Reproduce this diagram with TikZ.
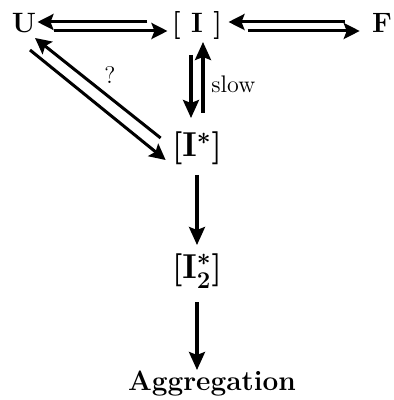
\documentclass[tikz,border=0pt]{standalone}
\usetikzlibrary{arrows.meta}
\begin{document}
\begin{tikzpicture}[x=0.5pt,y=-0.5pt,
  lbl/.style={font=\fontsize{14}{16}\selectfont\bfseries\boldmath, inner sep=0pt, anchor=base},
  big/.style={font=\fontsize{16.5}{18}\selectfont\bfseries\boldmath, inner sep=0pt, anchor=base},
  small/.style={font=\fontsize{12}{14}\selectfont, inner sep=0pt, anchor=base},
  arr/.style={-{Stealth[length=9pt,width=8pt,inset=1.5pt]}, line width=1.6pt},
  harr/.style={-{Stealth[length=8pt,width=8pt,inset=1.5pt]}, line width=1.5pt}]
\useasboundingbox (0,0) rectangle (393,400);
\node[lbl] (U) at (24,33) {U};
\node[lbl] (I) at (197,33) {[ I ]};
\node[lbl] (F) at (382,33) {F};
\node[big] (Istar) at (197,157) {[$\mathbf{I}^{*}$]};
\node[big] (I2) at (197,278) {[$\mathbf{I}^{*}_{2}$]};
\node[lbl] (Agg) at (212,390) {Aggregation};
\node[small, anchor=base west] (slow) at (211,93) {slow};
\node[small] (q) at (110,84) {?};
% U <-> I
\draw[harr] ([xshift=-12pt,yshift=5.5pt]I.base west) -- ([xshift=0.5pt,yshift=5.5pt]U.base east);
\draw[harr] ([xshift=8.5pt,yshift=1pt]U.base east) -- ([xshift=-2pt,yshift=1pt]I.base west);
% I <-> F
\draw[harr] ([xshift=-13.5pt,yshift=5.5pt]F.base west) -- ([xshift=3pt,yshift=5.5pt]I.base east);
\draw[harr] ([xshift=12.5pt,yshift=1pt]I.base east) -- ([xshift=-6pt,yshift=1pt]F.base west);
% I <-> I*
\draw[arr] ([xshift=-3pt,yshift=-11pt]I.base) -- ([xshift=-3pt,yshift=19.5pt]Istar.base);
\draw[arr] ([xshift=3pt,yshift=22pt]Istar.base) -- ([xshift=3pt,yshift=-4.5pt]I.base);
% U <-> I* diagonal
\draw[harr] ([xshift=3pt,yshift=-8.5pt]U.base) -- ([xshift=-3pt,yshift=-1.5pt]Istar.base west);
\draw[harr] ([xshift=-5.5pt,yshift=9.5pt]Istar.base west) -- ([xshift=5.5pt,yshift=-2.5pt]U.base);
% I* -> I2 -> Aggregation
\draw[arr] ([yshift=-9pt]Istar.base) -- ([yshift=16.5pt]I2.base);
\draw[arr] ([yshift=-12pt]I2.base) -- ([xshift=-7.5pt,yshift=10pt]Agg.base);
\end{tikzpicture}
\end{document}
